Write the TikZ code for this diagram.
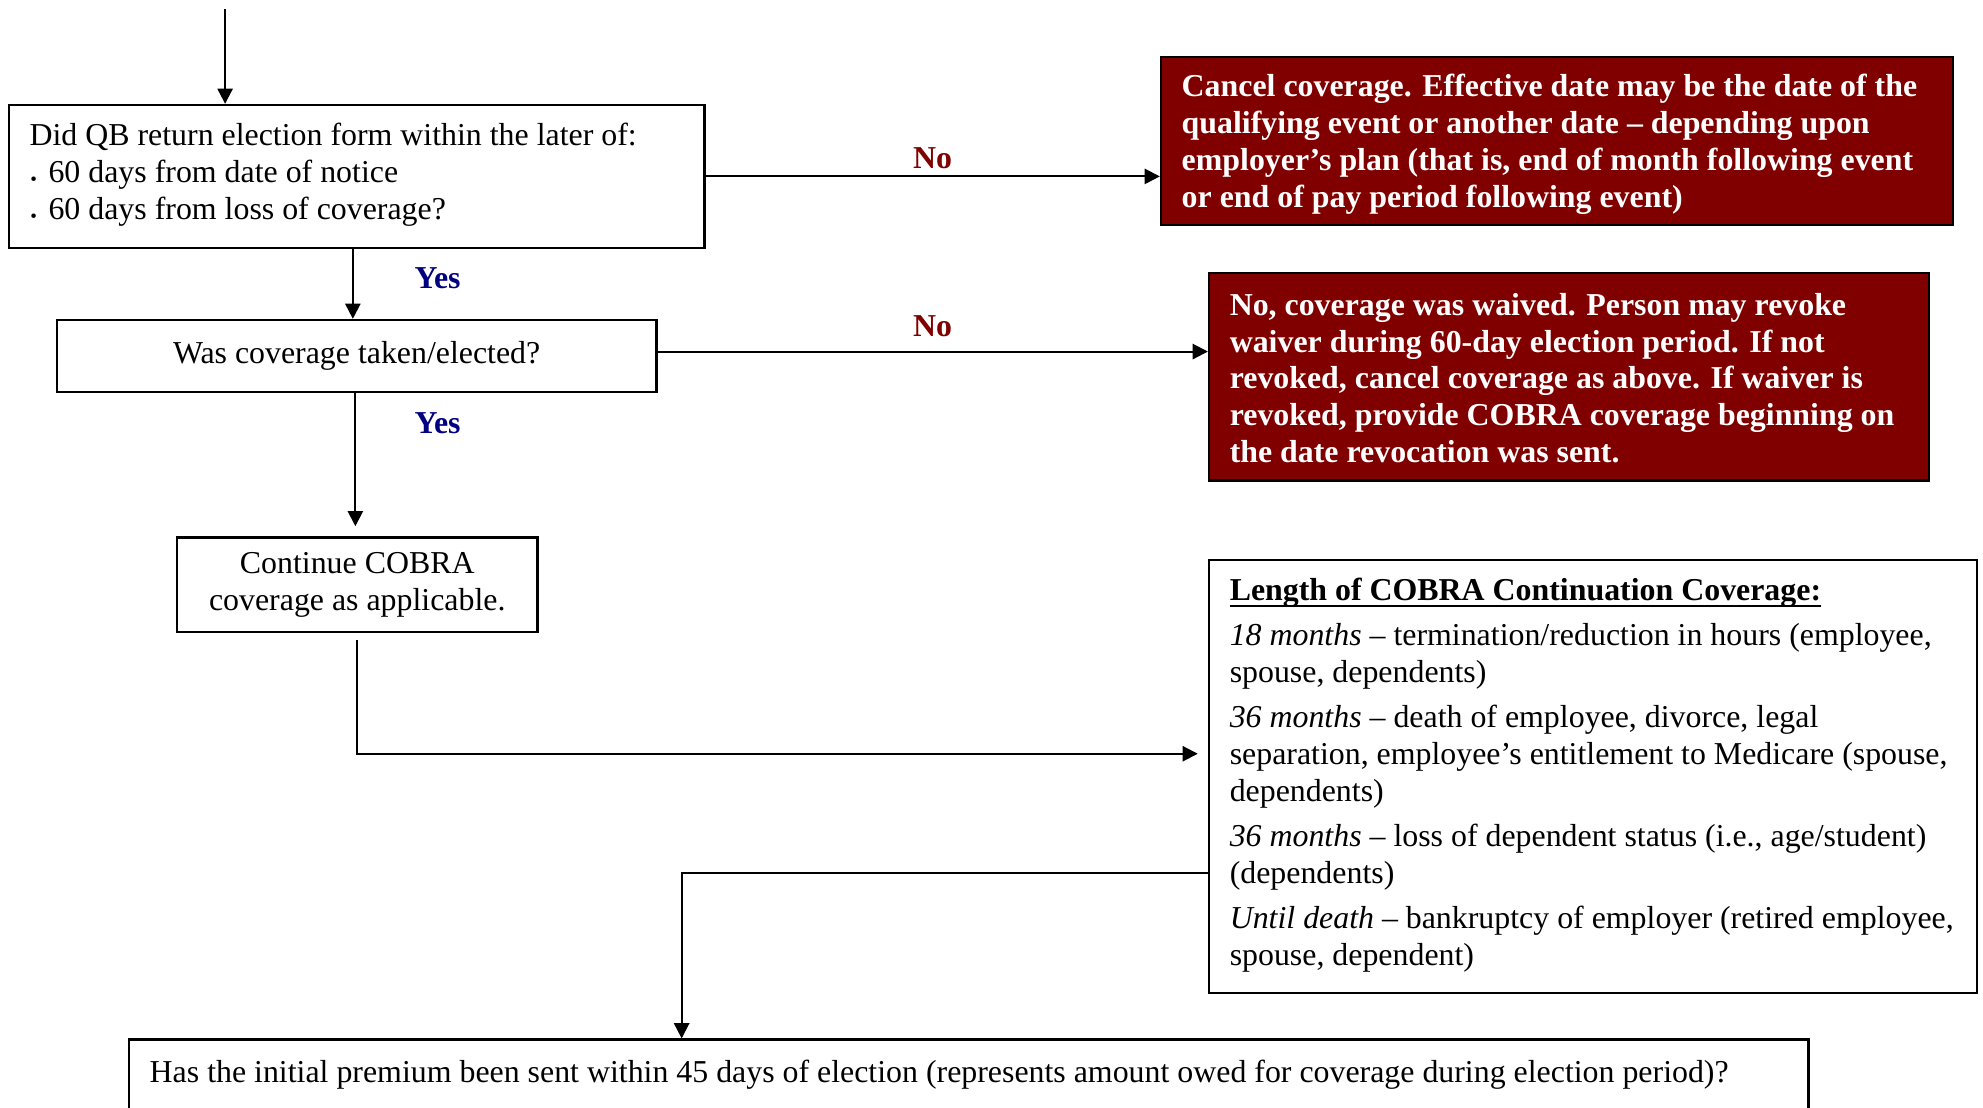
\documentclass[tikz,border=0pt]{standalone}
\usepackage{fontspec}
\setmainfont{Liberation Serif}
\usetikzlibrary{arrows.meta,calc}
\definecolor{maroonbox}{RGB}{128,0,0}
\definecolor{navylbl}{RGB}{0,0,128}
\newcommand\bul{\makebox[7.5pt][l]{\hspace{0.3pt}\raisebox{-1.1pt}{\fontsize{7.5pt}{7.5pt}\selectfont •}}}
\newcommand\thickul[1]{\setbox0\hbox{#1}\rlap{\rule[-2.6pt]{\wd0}{1pt}}\box0}
\begin{document}
\begin{tikzpicture}[x=0.5pt,y=-0.5pt,
  every node/.style={font=\fontsize{12.6pt}{14.6pt}\selectfont},
  box/.style={draw=black,line width=0.9pt,rectangle,inner sep=0pt},
  redbox/.style={box,fill=maroonbox},
  txt/.style={inner sep=0pt,align=left,anchor=west},
  wtxt/.style={txt,text=white,font=\fontsize{12.6pt}{14.6pt}\selectfont\bfseries},
  arr/.style={line width=0.8pt,-{Triangle[length=6pt,width=6pt]}},
  nolbl/.style={text=maroonbox,font=\fontsize{12.6pt}{14.6pt}\selectfont\bfseries,inner sep=0pt},
  yeslbl/.style={text=navylbl,font=\fontsize{12.6pt}{14.6pt}\selectfont\bfseries,inner sep=0pt},
]
\clip (0,0) rectangle (1568,876);

% boxes
\node[box,minimum width=275pt,minimum height=56.5pt] (b1) at (282,139.5) {};
\node[redbox,minimum width=313pt,minimum height=66.5pt] (cancel) at (1231,111.5) {};
\node[box,minimum width=237pt,minimum height=28.5pt,align=center] (b2) at (282,281.5) {Was coverage taken/elected?};
\node[redbox,minimum width=284.5pt,minimum height=82pt] (waived) at (1240.5,298) {};
\node[box,minimum width=142.5pt,minimum height=37.5pt,align=center] (b4) at (282.5,462.5) {Continue COBRA\\coverage as applicable.};
\node[box,minimum width=303.5pt,minimum height=171pt] (len) at (1259.5,614) {};
\node[box,minimum width=664pt,minimum height=39pt] (bot) at (766,861) {};

% texts
\node[txt] (t1) at (23,138) {Did QB return election form within the later of:\\
\bul 60 days from date of notice\\
\bul 60 days from loss of coverage?};

\node[wtxt] (tc) at (934,114) {Cancel coverage. Effective date may be the date of the\\
qualifying event or another date – depending upon\\
employer’s plan (that is, end of month following event\\
or end of pay period following event)};

\node[wtxt] (tw) at (972,299) {No, coverage was waived. Person may revoke\\
waiver during 60-day election period. If not\\
revoked, cancel coverage as above. If waiver is\\
revoked, provide COBRA coverage beginning on\\
the date revocation was sent.};

\node[txt] (tl) at (972,613) {\thickul{\textbf{Length of COBRA Continuation Coverage:}}\\[3.2pt]
\textit{18 months} – termination/reduction in hours (employee,\\
spouse, dependents)\\[3.2pt]
\textit{36 months} – death of employee, divorce, legal\\
separation, employee’s entitlement to Medicare (spouse,\\
dependents)\\[3.2pt]
\textit{36 months} – loss of dependent status (i.e., age/student)\\
(dependents)\\[3.2pt]
\textit{Until death} – bankruptcy of employer (retired employee,\\
spouse, dependent)};

\node[txt] (tb) at (118,849.5) {Has the initial premium been sent within 45 days of election (represents amount owed for coverage during election period)?};

% connectors
\coordinate (start) at (178,7);
\draw[arr] (start) -- (start |- b1.north);
\draw[arr] (b1.east) -- (b1.east -| cancel.west) node[nolbl,midway,yshift=7.25pt] (no1) {No};
\draw[arr] ([xshift=-1.5pt]b1.south) -- ([xshift=-1.5pt]b1.south |- b2.north) node[yeslbl,pos=0.42,xshift=33.5pt] (yes1) {Yes};
\draw[arr] ([yshift=1.75pt]b2.east) -- ([yshift=1.75pt]b2.east -| waived.west) node[nolbl,midway,yshift=10pt] (no2) {No};
\draw[arr,shorten >=4pt] ([xshift=-0.5pt]b2.south) -- ([xshift=-0.5pt]b2.south |- b4.north) node[yeslbl,pos=0.21,xshift=32.5pt] (yes2) {Yes};
\draw[arr,shorten <=2.5pt,shorten >=4pt] (b4.south) |- ([yshift=9pt]len.west);
\draw[arr] ([yshift=-38pt]len.west) -| ([xshift=-113.5pt]bot.north);
\end{tikzpicture}
\end{document}
